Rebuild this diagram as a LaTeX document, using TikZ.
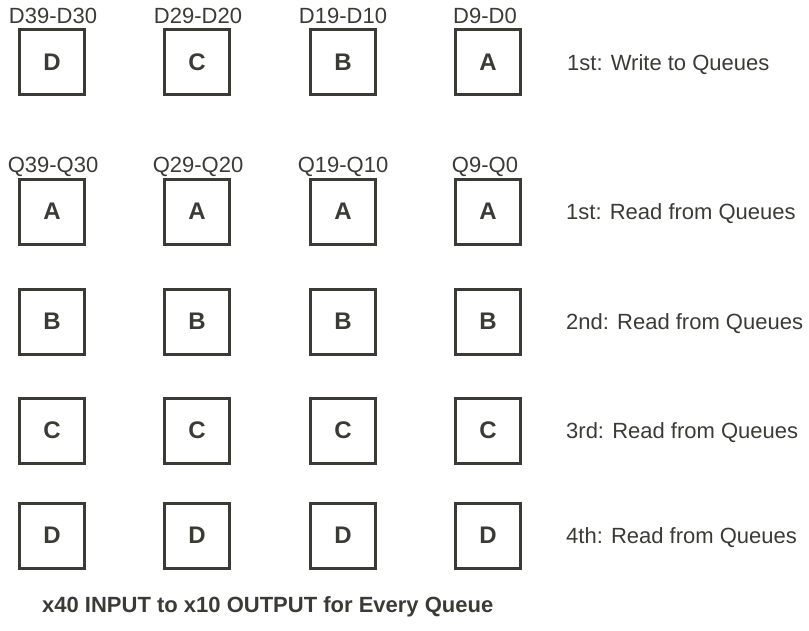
\documentclass[tikz,border=0pt]{standalone}
\usepackage{fontspec}
\setmainfont{Liberation Sans}
\definecolor{ink}{HTML}{3B3B36}
\begin{document}
\begin{tikzpicture}[x=1pt,y=-1pt,
  qbox/.style={draw=ink,line width=3pt,minimum size=65pt,inner sep=0pt,
    font=\fontsize{24}{28}\selectfont\bfseries,text=ink},
  lbl/.style={inner sep=0pt,anchor=base,font=\fontsize{22}{26}\selectfont,text=ink},
  side/.style={inner sep=0pt,anchor=base west,font=\fontsize{22}{26}\selectfont,text=ink},
  note/.style={inner sep=0pt,anchor=base west,font=\fontsize{22}{26}\selectfont\bfseries,text=ink}]
\useasboundingbox (0,0) rectangle (809,630);
% columns
\def\cA{52}\def\cB{197}\def\cC{343}\def\cD{488}
% row 1: write
\node[qbox] (w1) at (\cA,62) {D};
\node[qbox] (w2) at (\cB,62) {C};
\node[qbox] (w3) at (\cC,62) {B};
\node[qbox] (w4) at (\cD,62) {A};
\node[lbl] (dl1) at (\cA+1,23) {D39-D30};
\node[lbl] (dl2) at (\cB+1,23) {D29-D20};
\node[lbl] (dl3) at (\cC,23) {D19-D10};
\node[lbl] (dl4) at (485,23) {D9-D0};
\node[side] (s0) at (567,70) {1st: Write to Queues};
% read rows
\node[lbl] (ql1) at (\cA+1,172) {Q39-Q30};
\node[lbl] (ql2) at (\cB+1,172) {Q29-Q20};
\node[lbl] (ql3) at (\cC,172) {Q19-Q10};
\node[lbl] (ql4) at (485,172) {Q9-Q0};
\foreach \r/\y/\t/\lab in {a/211.5/A/1st, b/321.5/B/2nd, c/430.5/C/3rd, d/535.5/D/4th}{
  \node[qbox] (\r1) at (\cA,\y) {\t};
  \node[qbox] (\r2) at (\cB,\y) {\t};
  \node[qbox] (\r3) at (\cC,\y) {\t};
  \node[qbox] (\r4) at (\cD,\y) {\t};
  \node[side] (s\r) at (566,\y+8) {\lab: Read from Queues};
}
\node[note] (foot) at (42,612) {x40 INPUT to x10 OUTPUT for Every Queue};
\end{tikzpicture}
\end{document}
